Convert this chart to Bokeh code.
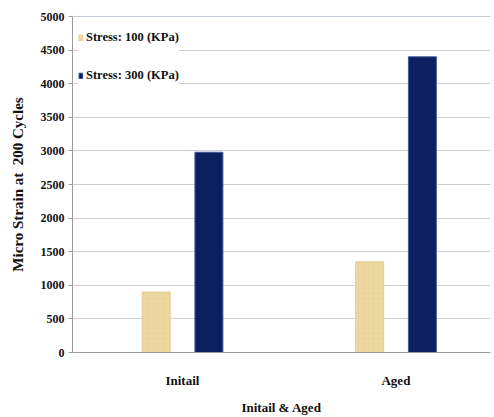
from bokeh.plotting import figure
from bokeh.models import ColumnDataSource, FixedTicker, Legend, LegendItem, Span, Range1d
from bokeh.transform import dodge
from bokeh.embed import file_html
from bokeh.resources import INLINE

# Micro strain at 200 cycles, for two stress levels
groups = ["Initail", "Aged"]
stress_100 = [900, 1350]
stress_300 = [2980, 4400]
series_names = ["Stress: 100 (KPa)", "Stress: 300 (KPa)"]
y_ticks = [0, 500, 1000, 1500, 2000, 2500, 3000, 3500, 4000, 4500, 5000]
y_title = "Micro Strain at\u00a0\u00a0200 Cycles"

SERIF = "Liberation Serif"
TAN = "#EDD8A2"
NAVY = "#0C1F5E"

src = ColumnDataSource(dict(
    x=list(range(len(groups))),
    s100=stress_100,
    s300=stress_300,
))

p = figure(width=494, height=417, output_backend="svg", toolbar_location=None,
           x_range=Range1d(-0.515, 1.443), y_range=Range1d(0, 5000),
           min_border_left=72, min_border_right=4, min_border_top=16,
           min_border_bottom=65)

r1 = p.vbar(x=dodge("x", -0.123, range=p.x_range), top="s100", width=0.131,
            source=src, fill_color=TAN, line_color="#E6CF97", line_width=1,
            hatch_pattern="cross", hatch_color="#D6BC80", hatch_alpha=0.2,
            hatch_scale=5, hatch_weight=0.6)
r2 = p.vbar(x=dodge("x", 0.124, range=p.x_range), top="s300", width=0.131,
            source=src, fill_color=NAVY, line_color="#3F5C9C", line_width=1)

# top boundary line
p.add_layout(Span(location=5000, dimension="width", line_color="#8FA2B8",
                  line_width=1.2))

p.outline_line_color = None
p.background_fill_color = "white"
p.border_fill_color = "white"

p.xgrid.grid_line_color = None
p.ygrid.grid_line_color = "#CFCFCF"
p.ygrid.grid_line_width = 1.2

# y axis
ya = p.yaxis[0]
ya.ticker = FixedTicker(ticks=y_ticks)
ya.axis_label = y_title
ya.axis_label_text_font = SERIF
ya.axis_label_text_font_style = "bold"
ya.axis_label_text_font_size = "15px"
ya.axis_label_text_color = "#111111"
ya.axis_label_standoff = 12
ya.major_label_text_font = SERIF
ya.major_label_text_font_style = "bold"
ya.major_label_text_font_size = "12px"
ya.major_label_text_color = "#111111"
ya.major_label_standoff = 4
ya.axis_line_color = "#9A9A9A"
ya.major_tick_line_color = "#9A9A9A"
ya.major_tick_out = 4
ya.major_tick_in = 0
ya.minor_tick_line_color = None

# x axis
xa = p.xaxis[0]
xa.ticker = FixedTicker(ticks=list(range(len(groups))))
xa.major_label_overrides = {i: g for i, g in enumerate(groups)}
xa.axis_label = "Initail & Aged"
xa.axis_label_text_font = SERIF
xa.axis_label_text_font_style = "bold"
xa.axis_label_text_font_size = "13px"
xa.axis_label_text_color = "#111111"
xa.axis_label_standoff = 9
xa.major_label_text_font = SERIF
xa.major_label_text_font_style = "bold"
xa.major_label_text_font_size = "13px"
xa.major_label_text_color = "#111111"
xa.major_label_standoff = 14
xa.axis_line_color = "#9A9A9A"
xa.major_tick_line_color = None
xa.minor_tick_line_color = None

legend = Legend(items=[LegendItem(label=series_names[0], renderers=[r1]),
                       LegendItem(label=series_names[1], renderers=[r2])],
                location="top_left", padding=15, margin=6, spacing=8,
                label_height=30, glyph_height=7, glyph_width=5,
                label_standoff=3, border_line_color=None,
                background_fill_color="white", background_fill_alpha=1.0,
                label_text_font=SERIF, label_text_font_style="bold",
                label_text_font_size="12.5px", label_text_color="#111111")
p.add_layout(legend)

open("out.html", "w").write(file_html(p, INLINE))
